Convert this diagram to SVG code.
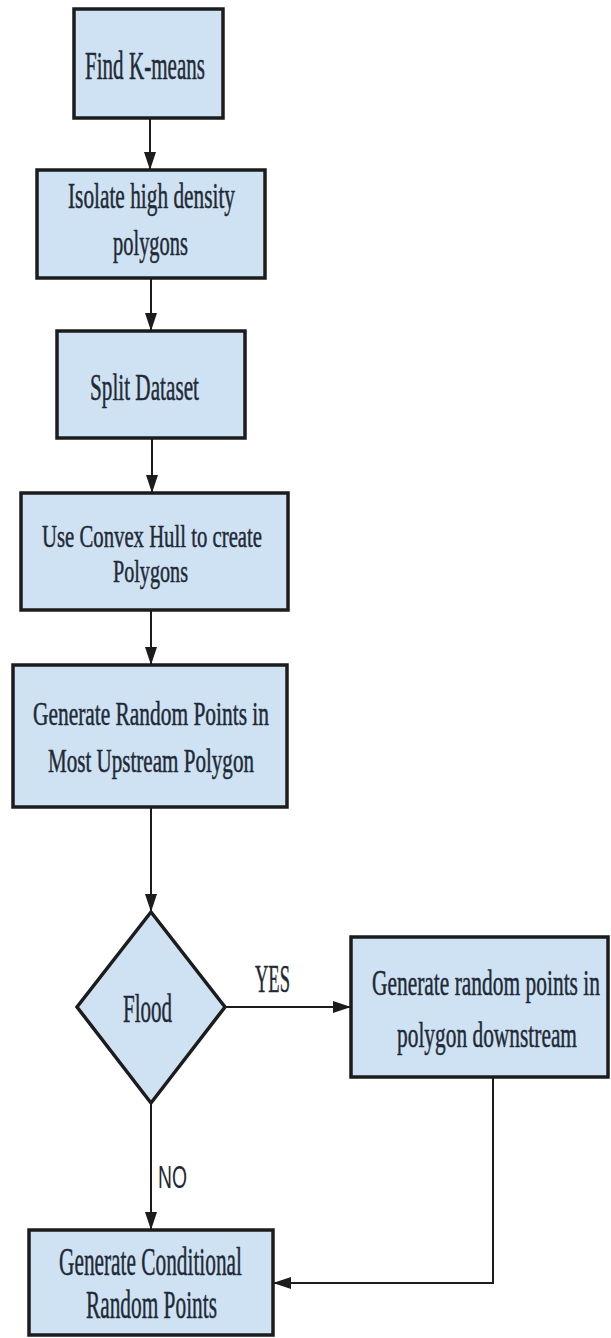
<svg xmlns="http://www.w3.org/2000/svg" width="611" height="1338" viewBox="0 0 611 1338">
<style>
.box{fill:#cfe2f3;stroke:#1c1c1c;stroke-width:3.5}
.t{font-family:"Liberation Serif","Times New Roman",serif;fill:#1f2a36;stroke:#1f2a36;stroke-width:0.5;text-anchor:middle}
.s{font-family:"Liberation Sans",Arial,sans-serif;fill:#1f2a36;text-anchor:middle}
.c{fill:none;stroke:#1c1c1c;stroke-width:2}
</style>
<defs>
<marker id="ah" markerUnits="userSpaceOnUse" markerWidth="18" markerHeight="12" refX="18" refY="6" orient="auto">
<path d="M0,0 L18,6 L0,12 z" fill="#1c1c1c"/>
</marker>
</defs>
<rect width="611" height="1338" fill="#ffffff"/>
<g id="connectors">
<line class="c" x1="150" y1="118" x2="150" y2="170" marker-end="url(#ah)"/>
<line class="c" x1="151" y1="278" x2="151" y2="331" marker-end="url(#ah)"/>
<line class="c" x1="152" y1="438" x2="152" y2="493" marker-end="url(#ah)"/>
<line class="c" x1="151" y1="610" x2="151" y2="665" marker-end="url(#ah)"/>
<line class="c" x1="151" y1="807" x2="151" y2="912" marker-end="url(#ah)"/>
<line class="c" x1="225" y1="1007" x2="351" y2="1007" stroke-width="2.5" marker-end="url(#ah)"/>
<line class="c" x1="151" y1="1103" x2="151" y2="1230" marker-end="url(#ah)"/>
<polyline class="c" points="493,1078 493,1283 273,1283" stroke-width="2.5" marker-end="url(#ah)"/>
<text class="t" transform="scale(0.58,1)" x="469.8" y="992" font-size="40" textLength="60.3" lengthAdjust="spacingAndGlyphs">YES</text>
<text class="s" transform="scale(0.58,1)" x="297.4" y="1188" font-size="32" textLength="50" lengthAdjust="spacingAndGlyphs">NO</text>
</g>
<g id="n1">
<rect class="box" x="74" y="9" width="149" height="109"/>
<text class="t" transform="scale(0.58,1)" x="250" y="79" font-size="39" textLength="206.9" lengthAdjust="spacingAndGlyphs">Find K-means</text>
</g>
<g id="n2">
<rect class="box" x="37" y="170" width="228" height="108"/>
<text class="t" transform="scale(0.58,1)" x="261.2" y="208" font-size="35" textLength="287.9" lengthAdjust="spacingAndGlyphs">Isolate high density</text>
<text class="t" transform="scale(0.58,1)" x="259.5" y="255" font-size="35" textLength="129.3" lengthAdjust="spacingAndGlyphs">polygons</text>
</g>
<g id="n3">
<rect class="box" x="57" y="331" width="188" height="107"/>
<text class="t" transform="scale(0.58,1)" x="249.1" y="400" font-size="37" textLength="187.9" lengthAdjust="spacingAndGlyphs">Split Dataset</text>
</g>
<g id="n4">
<rect class="box" x="21" y="493" width="267" height="117"/>
<text class="t" transform="scale(0.58,1)" x="262.1" y="547" font-size="32" textLength="379.3" lengthAdjust="spacingAndGlyphs">Use Convex Hull to create</text>
<text class="t" transform="scale(0.58,1)" x="259.5" y="582" font-size="32" textLength="129.3" lengthAdjust="spacingAndGlyphs">Polygons</text>
</g>
<g id="n5">
<rect class="box" x="13" y="665" width="274" height="142"/>
<text class="t" transform="scale(0.58,1)" x="260.3" y="725" font-size="33" textLength="406.9" lengthAdjust="spacingAndGlyphs">Generate Random Points in</text>
<text class="t" transform="scale(0.58,1)" x="260.3" y="772" font-size="33" textLength="355.2" lengthAdjust="spacingAndGlyphs">Most Upstream Polygon</text>
</g>
<g id="n6">
<polygon class="box" points="151,912 225,1007 151,1103 77,1007" stroke-width="3"/>
<text class="t" transform="scale(0.58,1)" x="254.3" y="1022" font-size="40" textLength="84.5" lengthAdjust="spacingAndGlyphs">Flood</text>
</g>
<g id="n7">
<rect class="box" x="351" y="937" width="257" height="140"/>
<text class="t" transform="scale(0.58,1)" x="837.9" y="995" font-size="35" textLength="393.1" lengthAdjust="spacingAndGlyphs">Generate random points in</text>
<text class="t" transform="scale(0.58,1)" x="839.7" y="1047" font-size="35" textLength="310.3" lengthAdjust="spacingAndGlyphs">polygon downstream</text>
</g>
<g id="n8">
<rect class="box" x="29" y="1230" width="244" height="105"/>
<text class="t" transform="scale(0.58,1)" x="259.5" y="1275" font-size="40" textLength="315.5" lengthAdjust="spacingAndGlyphs">Generate Conditional</text>
<text class="t" transform="scale(0.58,1)" x="261.2" y="1318" font-size="40" textLength="225.9" lengthAdjust="spacingAndGlyphs">Random Points</text>
</g>
</svg>
